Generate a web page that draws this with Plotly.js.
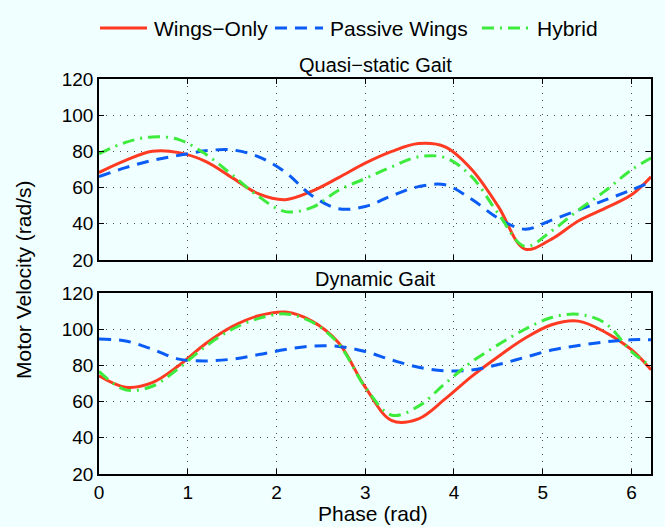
<!DOCTYPE html>
<html><head><meta charset="utf-8">
<script src="https://cdn.plot.ly/plotly-3.0.1.min.js"></script>
<style>html,body{margin:0;padding:0;background:#F0FFFF;}</style>
</head><body>
<div id="chart" style="width:665px;height:527px;"></div>
<script>
// Phase samples (rad)
const phase = [0,0.3,0.6,0.9,1.2,1.5,1.8,2.1,2.4,2.7,3.0,3.3,3.6,3.9,4.2,4.5,4.8,5.1,5.4,5.7,6.0,6.22];

// Quasi-static gait motor velocity (rad/s)
const quasiWingsOnly = [68.3,75,80,79.3,74.5,65.5,56.5,53.3,58,65.5,73.5,80,84.3,82.5,70,49.5,26,31.5,41.5,48.5,56,66];
const quasiPassive   = [66,71,75,77.8,80.3,80.8,77,68.5,55.5,48.3,49.5,55.5,60.5,61.5,53.5,43,37,42,47.5,53,58.7,63];
const quasiHybrid    = [78.7,85,88,86.5,78.5,67,55,46.7,49,58.5,65,71.5,77,76.5,66,45.5,27.5,36,47.5,58,69.8,76.3];

// Dynamic gait motor velocity (rad/s)
const dynWingsOnly = [74.3,68,70.5,80,92,101.5,107.5,109.5,104.5,92.5,68,49.5,50.5,61.5,74,85,95,102.5,104.5,98.5,88.7,77.6];
const dynPassive   = [94.6,93.5,89,83.5,82.5,83.5,86,88.8,90.7,90.5,87.7,83,79,77,77.5,80.5,84.5,88.5,91,93,94.2,94.2];
const dynHybrid    = [76.7,66.5,68.5,78.5,90.5,100,106,108.5,104,92,68,52.5,57.5,70,82,91.5,100,106.5,108.3,103.5,87.7,79.5];

const seriesNames = ['Wings\u2212Only','Passive Wings','Hybrid'];
const subplotTitles = ['Quasi\u2212static Gait','Dynamic Gait'];
const xTicks = [0,1,2,3,4,5,6];
const yTicks = [20,40,60,80,100,120];

const styles = [
  {color:'#FF3A22', width:3, dash:'solid'},
  {color:'#0A5CF5', width:3, dash:'12px,8px'},
  {color:'#3DEB3D', width:3, dash:'12px,6px,2px,6px'}
];
const quasi = [quasiWingsOnly, quasiPassive, quasiHybrid];
const dyn = [dynWingsOnly, dynPassive, dynHybrid];
const traces = [];
for (let i=0;i<3;i++){
  traces.push({x:phase, y:quasi[i], xaxis:'x2', yaxis:'y2', type:'scatter', mode:'lines',
    name:seriesNames[i], line:Object.assign({shape:'spline', smoothing:1}, styles[i]), showlegend:false});
}
for (let i=0;i<3;i++){
  traces.push({x:phase, y:dyn[i], xaxis:'x', yaxis:'y', type:'scatter', mode:'lines',
    name:seriesNames[i], line:Object.assign({shape:'spline', smoothing:1}, styles[i]), showlegend:false});
}
const FAM = 'Liberation Sans, Arial, Helvetica, sans-serif';
const tickFont = {family:FAM, size:19, color:'#000'};
const titleFont = {family:FAM, size:21, color:'#000'};
const subFont = {family:FAM, size:20, color:'#000'};
const legFont = {family:FAM, size:21, color:'#000'};
const axBase = {
  range:[0,6.22], showline:true, linecolor:'#000', linewidth:1.5, mirror:'ticks',
  ticks:'inside', ticklen:5, tickcolor:'#000', tickwidth:1, showgrid:true, gridcolor:'#505050', griddash:'1px,6px', gridwidth:1,
  zeroline:false, tickfont:tickFont, tickvals:xTicks
};
const yBase = {
  range:[20,120], showline:true, linecolor:'#000', linewidth:1.5, mirror:'ticks',
  ticks:'inside', ticklen:5, tickcolor:'#000', tickwidth:1, showgrid:true, gridcolor:'#505050', griddash:'1px,6px', gridwidth:1,
  zeroline:false, tickfont:tickFont, tickvals:yTicks
};

// custom legend (paper coords relative to plot area: x=(px-99)/552, y=(474-py)/395)
const legY = 1.129;
const legItems = [
  {x0:0.0018, x1:0.0870, tx:0.0960},
  {x0:0.3188, x1:0.4058, tx:0.4150},
  {x0:0.6938, x1:0.7808, tx:0.7900}
];
const shapes = legItems.map((it,i)=>({type:'line', xref:'paper', yref:'paper', x0:it.x0, x1:it.x1, y0:legY, y1:legY,
  line:{color:styles[i].color, width:3, dash:styles[i].dash}}));
const annotations = legItems.map((it,i)=>({text:seriesNames[i], xref:'paper', yref:'paper', x:it.tx, y:legY,
  xanchor:'left', yanchor:'middle', showarrow:false, font:legFont}));
annotations.push(
  {text:subplotTitles[0], xref:'paper', yref:'paper', x:0.5, y:1, yanchor:'bottom', showarrow:false, font:subFont, yshift:1},
  {text:subplotTitles[1], xref:'paper', yref:'paper', x:0.5, y:0.458, yanchor:'bottom', showarrow:false, font:subFont, yshift:1},
  {text:'Motor Velocity (rad/s)', xref:'paper', yref:'paper', x:-0.138, y:0.491, textangle:-90, showarrow:false, font:titleFont, xanchor:'center', yanchor:'middle'},
  {text:'Phase (rad)', xref:'paper', yref:'paper', x:0.497, y:-0.101, showarrow:false, font:titleFont, xanchor:'center', yanchor:'middle'}
);

const layout = {
  width:665, height:527,
  paper_bgcolor:'#F0FFFF', plot_bgcolor:'#F0FFFF',
  margin:{l:99, r:14, t:79, b:53, autoexpand:false},
  font:tickFont,
  showlegend:false,
  xaxis:Object.assign({}, axBase, {anchor:'y', domain:[0,1]}),
  yaxis:Object.assign({}, yBase, {domain:[0,0.458], anchor:'x'}),
  xaxis2:Object.assign({}, axBase, {anchor:'y2', domain:[0,1], showticklabels:false}),
  yaxis2:Object.assign({}, yBase, {domain:[0.542,1], anchor:'x2'}),
  shapes:shapes,
  annotations:annotations
};
Plotly.newPlot('chart', traces, layout, {displayModeBar:false});
</script>
</body></html>
